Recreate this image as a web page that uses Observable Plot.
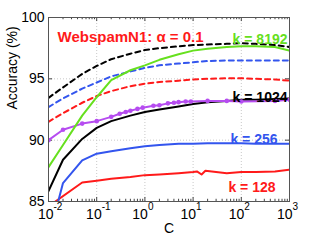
<!DOCTYPE html>
<html><head><meta charset="utf-8">
<script src="https://cdn.jsdelivr.net/npm/d3@7"></script>
<script src="https://cdn.jsdelivr.net/npm/@observablehq/plot@0.6"></script>
<style>body{margin:0;background:#fff}</style>
</head><body><div id="chart"></div>
<script>
// ---- data ----
const C = [0.01,0.02,0.05,0.1,0.2,0.5,1,2,5,10,20,50,100,200,500,1000];
const k8192 = [87.8,89.6,92.0,93.5,94.9,95.7,96.1,96.55,97.0,97.3,97.45,97.6,97.65,97.65,97.6,97.3];
const k1024 = [85.85,88.4,90.1,91.0,91.55,92.0,92.3,92.5,92.75,92.95,93.1,93.2,93.3,93.3,93.35,93.4];
const k256  = [82.0,86.5,88.35,88.9,89.1,89.35,89.5,89.6,89.7,89.7,89.75,89.75,89.75,89.7,89.7,89.7];
const C128  = [0.01,0.05,0.1,0.2,0.5,1,2,5,10,12,15,18,50,100,200,500,1000];
const k128  = [84.6,86.55,86.7,86.85,87.0,87.15,87.2,87.3,87.4,87.45,87.2,87.5,87.3,87.4,87.4,87.45,87.6];
const dashBlack = [93.45,94.3,95.4,96.05,96.6,97.05,97.35,97.5,97.65,97.75,97.8,97.85,97.9,97.85,97.75,97.6];
const dashBlue  = [92.7,93.4,94.2,94.7,95.2,95.6,95.9,96.1,96.25,96.35,96.45,96.5,96.5,96.5,96.5,96.5];
const dashRed   = [91.5,92.2,93.05,93.6,94.0,94.4,94.6,94.75,94.85,94.95,95.0,95.05,95.05,95.0,94.95,94.85];
const Cpurple = [0.01,0.02,0.05,0.1,0.2,0.3,0.4,0.5,0.7,0.9,1.5,2,3,4,5,7,9,20,50,100,500,1000];
const purple  = [90.0,90.85,91.35,91.55,91.9,92.15,92.3,92.4,92.55,92.65,92.8,92.85,93.0,93.05,93.1,93.15,93.15,93.2,93.2,93.15,93.2,93.3];
const yTicks = [85,90,95,100];
const xExps = [-2,-1,0,1,2,3];
const title = "WebspamN1: α = 0.1";
const labels = ["k = 8192","k = 1024","k = 256","k = 128"];

// ---- helpers ----
const rows = (xs, ys) => ys.map((v,i)=>({C:xs[i], acc:v}));
const col = {green:"#66e01e", black:"#000000", blue:"#3355ee", red:"#ff1a1a", purple:"#b64cf0"};
const font = "'Liberation Sans', Arial, Helvetica, sans-serif";
const minor = [];
for (let e=-2;e<3;e++) for (let m=2;m<=9;m++) minor.push(m*10**e);
const major = xExps.map(e=>10**e);
const tl = 0.33; // tick length in y units (~4px)
const xl = f => 0.01*10**f; // x tick length in log space

const lineOpts = {x:"C", y:"acc", strokeWidth:2, clip:true};

const plot = Plot.plot({
  width: 319, height: 240,
  marginLeft: 48, marginRight: 30, marginTop: 17, marginBottom: 39,
  x: {type:"log", domain:[0.01,1000], axis:null},
  y: {domain:[85,100], axis:null},
  style: {fontFamily: font, background:"#fff"},
  marks: [
    Plot.ruleX(major.slice(1,-1), {stroke:"#c8c8c8", strokeDasharray:"1,2"}),
    Plot.ruleY([90,95], {stroke:"#c8c8c8", strokeDasharray:"1,2"}),
    // ticks
    Plot.ruleX(major, {x:d=>d, y1:85, y2:85+tl, stroke:"#444"}),
    Plot.ruleX(major, {x:d=>d, y1:100, y2:100-tl, stroke:"#444"}),
    Plot.ruleX(minor, {x:d=>d, y1:85, y2:85+tl*0.55, stroke:"#444"}),
    Plot.ruleX(minor, {x:d=>d, y1:100, y2:100-tl*0.55, stroke:"#444"}),
    Plot.ruleY(yTicks, {y:d=>d, x1:0.01, x2:xl(0.085), stroke:"#444"}),
    Plot.ruleY(yTicks, {y:d=>d, x1:1000, x2:1000/10**0.085, stroke:"#444"}),
    // dashed
    Plot.line(rows(C,dashBlack), {...lineOpts, stroke:col.black, strokeDasharray:"5,4"}),
    Plot.line(rows(C,dashBlue), {...lineOpts, stroke:col.blue, strokeDasharray:"5,4"}),
    Plot.line(rows(C,dashRed), {...lineOpts, stroke:col.red, strokeDasharray:"5,4"}),
    // solid
    Plot.line(rows(C128,k128), {...lineOpts, stroke:col.red}),
    Plot.line(rows(C,k256), {...lineOpts, stroke:col.blue}),
    Plot.line(rows(C,k1024), {...lineOpts, stroke:col.black}),
    Plot.line(rows(Cpurple,purple), {...lineOpts, stroke:col.purple}),
    Plot.dot(rows(Cpurple,purple), {x:"C", y:"acc", r:2.3, fill:col.purple, clip:true}),
    Plot.line(rows(C,k8192), {...lineOpts, stroke:col.green}),
    Plot.frame({stroke:"#555"}),
    // in-plot labels
    Plot.text([title], {frameAnchor:"top-left", dx:9, dy:14, textAnchor:"start", fill:col.red, fontWeight:"bold", fontSize:15}),
    Plot.text([labels[0]], {frameAnchor:"top-right", dx:-2, dy:17, textAnchor:"end", fill:col.green, fontWeight:"bold", fontSize:14}),
    Plot.text([labels[1]], {frameAnchor:"top-right", dx:-2, dy:75, textAnchor:"end", fill:col.black, fontWeight:"bold", fontSize:14}),
    Plot.text([labels[2]], {frameAnchor:"top-right", dx:-12, dy:117, textAnchor:"end", fill:col.blue, fontWeight:"bold", fontSize:14}),
    Plot.text([labels[3]], {frameAnchor:"top-right", dx:-14, dy:165, textAnchor:"end", fill:col.red, fontWeight:"bold", fontSize:14}),
    // y tick labels
    Plot.text(yTicks, {y:d=>d, frameAnchor:"left", dx:-4, textAnchor:"end", text:d=>String(d), fontSize:14, fill:"#000"}),
    // x tick labels
    Plot.text(xExps.filter(e=>e<0), {x:e=>10**e, frameAnchor:"bottom", dy:17, dx:5, textAnchor:"end", text:()=>"10", fontSize:14, fill:"#000"}),
    Plot.text(xExps.filter(e=>e>=0), {x:e=>10**e, frameAnchor:"bottom", dy:17, dx:3, textAnchor:"end", text:()=>"10", fontSize:14, fill:"#000"}),
    Plot.text(xExps.filter(e=>e<0), {x:e=>10**e, frameAnchor:"bottom", dy:8, dx:5, textAnchor:"start", text:e=>"-"+Math.abs(e), fontSize:10, fill:"#000"}),
    Plot.text(xExps.filter(e=>e>=0), {x:e=>10**e, frameAnchor:"bottom", dy:8, dx:3, textAnchor:"start", text:e=>String(e), fontSize:10, fill:"#000"}),
    // axis titles
    Plot.text(["Accuracy (%)"], {frameAnchor:"left", dx:-36, rotate:-90, fontSize:14, fill:"#000"}),
    Plot.text(["C"], {frameAnchor:"bottom", dy:31, fontSize:14, fill:"#000"})
  ]
});
document.getElementById("chart").appendChild(plot);
</script>
</body></html>
